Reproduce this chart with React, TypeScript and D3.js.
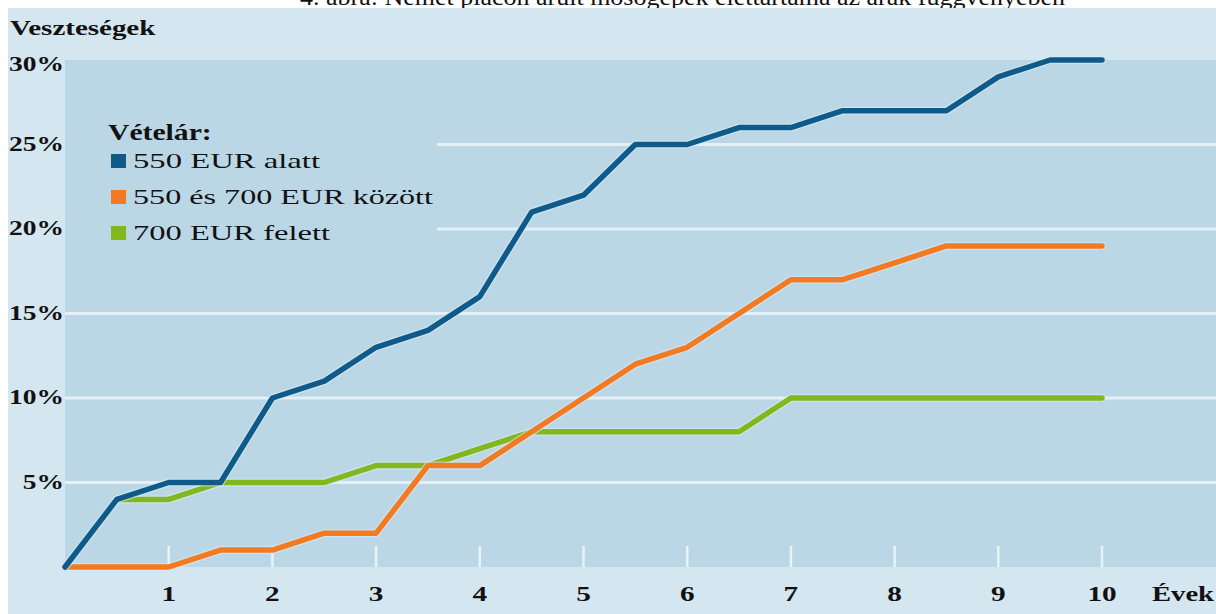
import React, { useEffect, useRef } from 'react';
import * as d3 from 'd3';

const years = [0, 0.5, 1, 1.5, 2, 2.5, 3, 3.5, 4, 4.5, 5, 5.5, 6, 6.5, 7, 7.5, 8, 8.5, 9, 9.5, 10];
const under550 = [0, 4, 5, 5, 10, 11, 13, 14, 16, 21, 22, 25, 25, 26, 26, 27, 27, 27, 29, 30, 30];
const between550and700 = [0, 0, 0, 1, 1, 2, 2, 6, 6, 8, 10, 12, 13, 15, 17, 17, 18, 19, 19, 19, 19];
// the green series starts at half a year
const over700 = [null, 4, 4, 5, 5, 5, 6, 6, 7, 8, 8, 8, 8, 8, 10, 10, 10, 10, 10, 10, 10];

const seriesNames = ['550 EUR alatt', '550 és 700 EUR között', '700 EUR felett'];
const seriesColors = ['#105a89', '#f47a22', '#82b71d'];
const xTicks = [1, 2, 3, 4, 5, 6, 7, 8, 9, 10];
const yTicks = [5, 10, 15, 20, 25, 30];

const title = '4. ábra: Német piacon árult mosógépek élettartama az árak függvényében';

const FONT = '"Liberation Serif", "DejaVu Serif", serif';

export default function App() {
  const svgRef = useRef<SVGSVGElement>(null);

  useEffect(() => {
    const W = 1216, H = 614;
    const svg = d3.select(svgRef.current);
    svg.selectAll('*').remove();
    svg.attr('width', W).attr('height', H);

    const x = d3.scaleLinear().domain([0, 10]).range([65, 1102]);
    const y = d3.scaleLinear().domain([0, 30]).range([567, 60]);

    // the reference lettering is wider than Liberation Serif, so stretch horizontally
    const label = (px: number, py: number, txt: string, size: number, sx: number, anchor = 'start', bold = true) =>
      svg.append('g').attr('transform', `translate(${px},${py}) scale(${sx},1)`)
        .append('text').attr('text-anchor', anchor)
        .attr('font-family', FONT).attr('font-weight', bold ? 'bold' : 'normal')
        .attr('font-size', size).attr('fill', '#111').text(txt);

    // caption, mostly hidden behind the panel
    svg.append('text').attr('x', 300).attr('y', 5)
      .attr('font-family', FONT).attr('font-size', 24).attr('fill', '#111')
      .attr('textLength', 765).attr('lengthAdjust', 'spacingAndGlyphs')
      .text(title);

    svg.append('rect').attr('x', 8).attr('y', 8).attr('width', W - 8).attr('height', H - 8).attr('fill', '#d4e6ef');
    svg.append('rect').attr('x', x(0)).attr('y', y(30)).attr('width', W - x(0)).attr('height', y(0) - y(30)).attr('fill', '#bbd7e6');

    // grid
    yTicks.filter(t => t < 30).forEach(t => {
      const x0 = t >= 20 ? 437 : x(0);
      svg.append('line').attr('x1', x0).attr('x2', W).attr('y1', y(t)).attr('y2', y(t))
        .attr('stroke', '#e4f0f6').attr('stroke-width', 3);
    });

    // x ticks
    xTicks.forEach(t => {
      svg.append('line').attr('x1', x(t)).attr('x2', x(t)).attr('y1', y(0) - 21).attr('y2', y(0))
        .attr('stroke', '#e8f3f8').attr('stroke-width', 2.5);
      label(x(t), 601, String(t), 22, 1.33, 'middle');
    });
    label(1214, 601, 'Évek', 22, 1.3, 'end');

    // y labels
    yTicks.forEach(t => {
      label(64, t === 30 ? 71 : y(t) + 6, t + '%', 22, 1.25, 'end');
    });
    label(10, 35, 'Veszteségek', 21, 1.38);

    // lines
    const series = [under550, between550and700, over700];
    const line = d3.line<[number, number | null]>()
      .defined(d => d[1] != null)
      .x(d => x(d[0]))
      .y(d => y(d[1] as number));
    [2, 1, 0].forEach(i => {
      const pts = years.map((yr, j) => [yr, series[i][j]] as [number, number | null]);
      svg.append('path').datum(pts).attr('d', line).attr('fill', 'none')
        .attr('stroke', '#d6ecf6').attr('stroke-opacity', 0.6).attr('stroke-width', 8)
        .attr('stroke-linejoin', 'round').attr('stroke-linecap', 'round');
      svg.append('path').datum(pts).attr('d', line).attr('fill', 'none')
        .attr('stroke', seriesColors[i]).attr('stroke-width', 5.5)
        .attr('stroke-linejoin', 'round').attr('stroke-linecap', 'round');
    });

    // legend
    label(108, 140, 'Vételár:', 23, 1.29);
    const itemWidths = [187, 300, 197];
    seriesNames.forEach((name, i) => {
      const by = [168, 204, 240][i];
      svg.append('rect').attr('x', 111).attr('y', by - 14).attr('width', 15).attr('height', 14).attr('fill', seriesColors[i]);
      svg.append('text').attr('x', 133).attr('y', by)
        .attr('font-family', FONT).attr('font-size', 22).attr('fill', '#111')
        .attr('textLength', itemWidths[i]).attr('lengthAdjust', 'spacingAndGlyphs')
        .text(name);
    });
  }, []);

  return (
    <div style={{ position: 'absolute', left: 0, top: 0, background: '#fff' }}>
      <svg ref={svgRef} style={{ display: 'block' }}></svg>
    </div>
  );
}
